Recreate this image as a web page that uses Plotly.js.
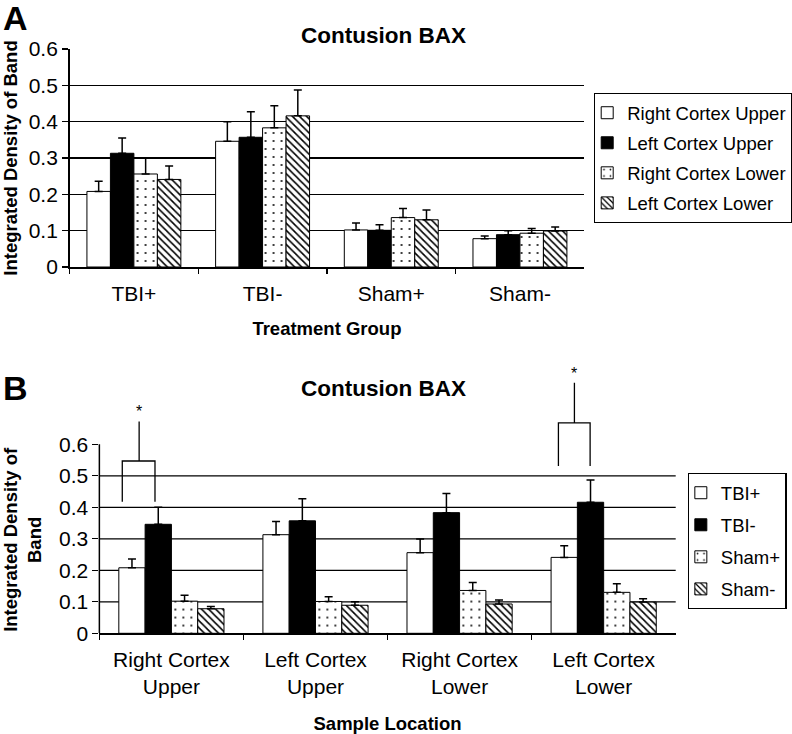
<!DOCTYPE html>
<html>
<head>
<meta charset="utf-8">
<script src="https://cdn.plot.ly/plotly-3.0.1.min.js"></script>
<style>html,body{margin:0;padding:0;background:#fff;}#chart{width:792px;height:734px;}</style>
</head>
<body>
<div id="chart"></div>
<script>
// ---------- data ----------
const groups = ["TBI+", "TBI-", "Sham+", "Sham-"];
const locations = ["Right Cortex Upper", "Left Cortex Upper", "Right Cortex Lower", "Left Cortex Lower"];
const locationTickText = ["Right Cortex<br>Upper", "Left Cortex<br>Upper", "Right Cortex<br>Lower", "Left Cortex<br>Lower"];
const yTickVals = [0, 0.1, 0.2, 0.3, 0.4, 0.5, 0.6];
const yGridVals = [0.1, 0.2, 0.3, 0.4, 0.5];

// mean integrated density, per location, over groups [TBI+, TBI-, Sham+, Sham-]
const rcuMean = [0.208, 0.346, 0.102, 0.078];
const lcuMean = [0.313, 0.357, 0.101, 0.089];
const rclMean = [0.256, 0.383, 0.136, 0.093];
const lclMean = [0.241, 0.416, 0.130, 0.099];
// upper error (SEM)
const rcuErr = [0.028, 0.054, 0.019, 0.007];
const lcuErr = [0.042, 0.070, 0.015, 0.011];
const rclErr = [0.043, 0.061, 0.025, 0.013];
const lclErr = [0.037, 0.071, 0.027, 0.011];

// significance brackets in panel B (category index, offsets in category units, y values)
const sigCategory = [0, 3];
const sigLeft = [-0.341, -0.314];
const sigRight = [-0.114, -0.094];
const sigStem = [-0.224, -0.203];
const sigLegBottom = [0.418, 0.531];
const sigTop = [0.547, 0.668];
const sigStemTop = [0.672, 0.795];
const sigStarY = [0.704, 0.826];

// ---------- styles ----------
const FONT = "Liberation Sans, Arial, Helvetica, sans-serif";
const W = 792, H = 734;
const px = x => x / W;
const py = y => 1 - y / H;

const styles = [
  {color: "#ffffff"},
  {color: "#000000"},
  {color: "#ffffff", pattern: {shape: ".", size: 8, solidity: 0.05, fgcolor: "#000", bgcolor: "#fff"}},
  {color: "#ffffff", pattern: {shape: "\\", size: 5, solidity: 0.32, fgcolor: "#000", bgcolor: "#fff"}}
];

const meansByLoc = [rcuMean, lcuMean, rclMean, lclMean];
const errsByLoc = [rcuErr, lcuErr, rclErr, lclErr];

function barTrace(name, xs, ys, errs, style, xa, ya, legendId, idx) {
  const marker = {color: style.color, line: {color: "#000", width: 1}};
  if (style.pattern) marker.pattern = style.pattern;
  return {
    type: "bar", name: name, x: xs, y: ys,
    xaxis: xa, yaxis: ya, legend: legendId, legendgroup: legendId + idx,
    marker: marker,
    error_y: {type: "data", symmetric: false, array: errs, arrayminus: errs.map(() => 0),
              color: "#000", thickness: 1.5, width: 4},
    hoverinfo: "x+y+name"
  };
}

const traces = [];
// Panel A: series = locations, x = groups
locations.forEach((loc, i) => {
  traces.push(barTrace(loc, groups, meansByLoc[i], errsByLoc[i], styles[i], "x", "y", "legend", i));
});
// Panel B: series = groups, x = locations
groups.forEach((g, j) => {
  traces.push(barTrace(g, locations, meansByLoc.map(m => m[j]), errsByLoc.map(e => e[j]),
    styles[j], "x2", "y2", "legend2", j));
});

// ---------- shapes ----------
const shapes = [];
// panel B grid lines and partial y axis line (0 to 0.6)
yGridVals.forEach(v => shapes.push({type: "line", layer: "below", xref: "x2 domain", yref: "y2",
  x0: 0, x1: 1, y0: v, y1: v, line: {color: "#000", width: 1.3}}));
shapes.push({type: "line", xref: "x2 domain", yref: "y2", x0: 0, x1: 0, y0: 0, y1: 0.6,
  line: {color: "#000", width: 1.5}});
// significance brackets
const annotations = [];
sigCategory.forEach((c, k) => {
  const L = c + sigLeft[k], R = c + sigRight[k], S = c + sigStem[k];
  shapes.push({type: "path", xref: "x2", yref: "y2",
    path: `M ${L},${sigLegBottom[k]} L ${L},${sigTop[k]} L ${R},${sigTop[k]} L ${R},${sigLegBottom[k]}`,
    line: {color: "#000", width: 1.3}});
  shapes.push({type: "line", xref: "x2", yref: "y2", x0: S, x1: S, y0: sigTop[k], y1: sigStemTop[k],
    line: {color: "#000", width: 1.3}});
  annotations.push({xref: "x2", yref: "y2", x: S, y: sigStarY[k], text: "*", showarrow: false,
    xanchor: "center", yanchor: "middle", font: {family: FONT, size: 16, color: "#000"}});
});

annotations.push(
  {xref: "paper", yref: "paper", x: px(1), y: py(18), xanchor: "left", yanchor: "middle",
   text: "A", showarrow: false, font: {family: FONT, size: 34, weight: "bold", color: "#000"}},
  {xref: "paper", yref: "paper", x: px(1), y: py(388), xanchor: "left", yanchor: "middle",
   text: "B", showarrow: false, font: {family: FONT, size: 34, weight: "bold", color: "#000"}},
  {xref: "paper", yref: "paper", x: px(386), y: py(388), xanchor: "center", yanchor: "middle",
   text: "Contusion BAX", showarrow: false, font: {family: FONT, size: 22.5, weight: "bold", color: "#000"}},
  {xref: "paper", yref: "paper", x: px(22), y: py(539), xanchor: "center", yanchor: "middle",
   textangle: -90, text: "Integrated Density of<br>Band", showarrow: false,
   font: {family: FONT, size: 18.5, weight: "bold", color: "#000"}}
);

const tickFont = {family: FONT, size: 21, color: "#000"};
const axTitleFont = {family: FONT, size: 18.5, weight: "bold", color: "#000"};

const layout = {
  width: W, height: H,
  margin: {l: 0, r: 0, t: 0, b: 0},
  paper_bgcolor: "#fff", plot_bgcolor: "rgba(0,0,0,0)",
  font: {family: FONT, color: "#000"},
  barmode: "group", bargap: 0.27, bargroupgap: 0,
  showlegend: true,
  title: {text: "Contusion BAX", x: px(386), xanchor: "center", y: py(35), yanchor: "middle",
          xref: "paper", yref: "paper", font: {family: FONT, size: 22.5, weight: "bold", color: "#000"}},
  xaxis: {domain: [px(70), px(588)], anchor: "y", type: "category", tickson: "boundaries",
          ticks: "outside", ticklen: 5, tickcolor: "#000", tickwidth: 1.3,
          showline: true, linecolor: "#000", linewidth: 1.5, showgrid: false,
          tickfont: tickFont, ticklabelstandoff: 7, automargin: false,
          title: {text: "Treatment Group", font: axTitleFont, standoff: 18}},
  yaxis: {domain: [py(267), py(49)], anchor: "x", range: [0, 0.6], tickmode: "array",
          tickvals: yTickVals, ticks: "outside", ticklen: 6, tickcolor: "#000", tickwidth: 1.3,
          showline: true, linecolor: "#000", linewidth: 1.5, showgrid: true,
          gridcolor: "#000", gridwidth: 1.3, zeroline: false, tickfont: tickFont, automargin: false,
          title: {text: "Integrated Density of Band", font: axTitleFont, standoff: 10}},
  xaxis2: {domain: [px(100), px(680)], anchor: "y2", type: "category", tickson: "boundaries",
           tickmode: "array", tickvals: locations, ticktext: locationTickText,
           ticks: "outside", ticklen: 5, tickcolor: "#000", tickwidth: 1.3,
           showline: true, linecolor: "#000", linewidth: 1.5, showgrid: false,
           tickfont: tickFont, ticklabelstandoff: 7, automargin: false,
           title: {text: "Sample Location", font: axTitleFont, standoff: 20}},
  yaxis2: {domain: [py(633.3), py(365.55)], anchor: "x2", range: [0, 0.85], tickmode: "array",
           tickvals: yTickVals, ticks: "outside", ticklen: 6, tickcolor: "#000", tickwidth: 1.3,
           showline: false, showgrid: false, zeroline: false, tickfont: tickFont, automargin: false},
  legend: {x: px(598), xanchor: "left", y: py(93), yanchor: "top", bgcolor: "#fff",
           bordercolor: "#000", borderwidth: 1.2, font: {family: FONT, size: 18.5, color: "#000"},
           traceorder: "grouped", tracegroupgap: 3, indentation: -8},
  legend2: {x: px(692), xanchor: "left", y: py(473), yanchor: "top", bgcolor: "#fff",
            bordercolor: "#000", borderwidth: 1.2, font: {family: FONT, size: 18.5, color: "#000"},
            traceorder: "grouped", tracegroupgap: 5, indentation: -8},
  shapes: shapes,
  annotations: annotations
};

Plotly.newPlot("chart", traces, layout, {displayModeBar: false, staticPlot: true});
</script>
</body>
</html>
